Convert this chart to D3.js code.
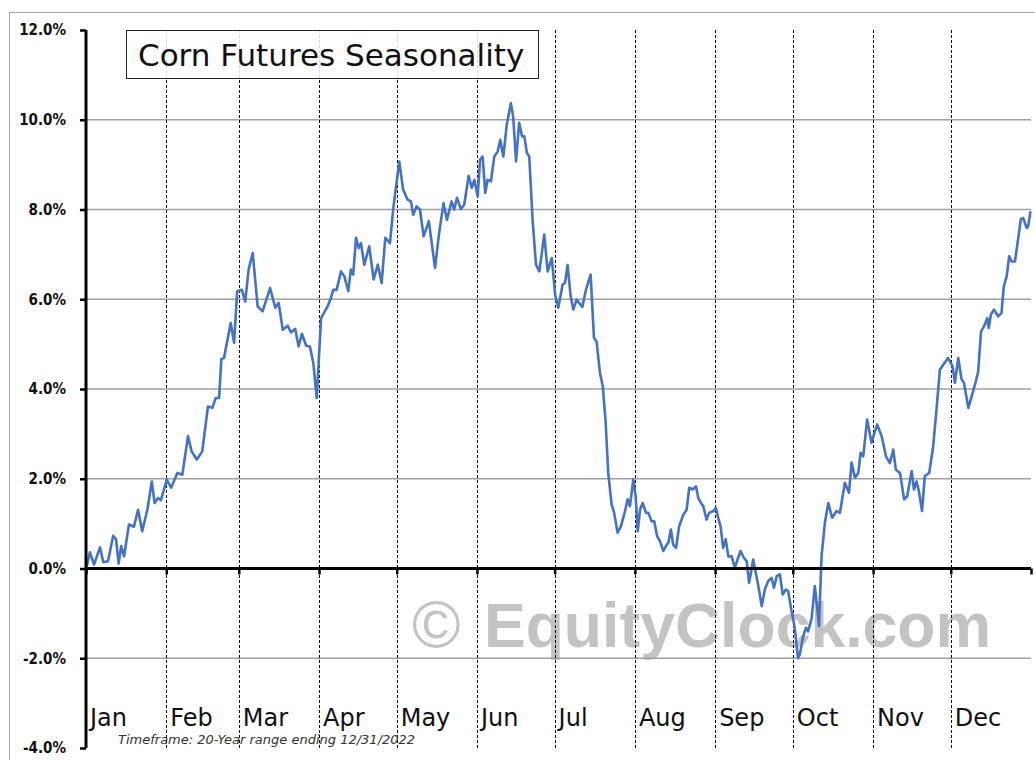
<!DOCTYPE html>
<html lang="en">
<head>
<meta charset="UTF-8">
<title>Corn Futures Seasonality</title>
<script src="https://d3js.org/d3.v7.min.js"></script>
<style>
    body { margin: 0; background: #fff; }
    svg { display: block; }
</style>
</head>
<body>
<script>
    // seasonal path: day of year (0 = Jan 1) and average % change from start of year
    const dayOfYear = [
        0.3, 1.5, 3.1, 5.4, 6.7, 8.5, 10.5, 11.6, 12.6, 13.6, 14.7, 16.6, 18.5, 20.1, 21.7, 23.7, 25.4, 26.5, 27.8, 28.9,
        31.2, 32.9, 35.3, 37.2, 39.4, 40.8, 42.8, 44.9, 47.1, 48.8, 50.1, 51.4, 52.3, 53.3, 55.9, 57.2, 58.4, 60.2, 61.5, 62.8,
        64.4, 66.3, 68.2, 71.1, 73.1, 74.4, 76.0, 77.9, 79.2, 80.8, 82.1, 83.4, 85.0, 86.5, 87.8, 89.1, 90.8, 93.3, 94.6, 95.5,
        96.8, 98.5, 99.8, 101.3, 102.3, 103.2, 104.3, 105.3, 106.2, 107.5, 109.4, 111.1, 112.7, 114.2, 115.6, 117.4, 118.7, 121.0, 122.5, 124.2,
        125.5, 126.4, 127.7, 129.0, 130.4, 132.4, 133.2, 134.8, 136.4, 138.1, 139.4, 141.2, 142.2, 143.3, 144.8, 146.1, 147.8, 149.0, 150.0, 151.3,
        152.2, 153.2, 154.2, 155.1, 156.4, 157.7, 159.0, 160.0, 161.2, 162.5, 164.1, 165.0, 166.1, 167.3, 168.4, 169.3, 170.3, 171.2, 172.5, 173.8,
        175.1, 177.0, 178.3, 179.9, 181.2, 182.4, 184.1, 185.0, 186.0, 187.2, 188.2, 189.5, 191.7, 193.1, 194.9, 196.2, 197.2, 198.5, 199.6, 200.7,
        201.7, 203.0, 204.0, 205.3, 206.6, 208.2, 209.2, 210.1, 211.4, 212.3, 213.1, 214.0, 215.0, 216.3, 217.2, 218.5, 219.5, 220.6, 221.7, 223.0,
        224.3, 224.9, 225.9, 226.8, 227.9, 229.1, 230.7, 232.0, 233.0, 234.3, 235.6, 236.5, 237.5, 238.4, 239.7, 240.7, 242.3, 243.3, 244.2, 245.1,
        246.1, 247.1, 248.1, 249.4, 250.6, 251.9, 252.8, 254.1, 255.2, 256.1, 256.8, 257.7, 258.8, 259.6, 261.0, 262.2, 263.5, 264.8, 265.7, 266.8,
        268.0, 269.1, 270.3, 271.2, 272.5, 273.4, 274.0, 275.0, 275.7, 277.0, 278.1, 278.9, 280.3, 281.5, 282.2, 283.1, 284.1, 285.4, 286.7, 288.2,
        289.9, 291.2, 293.1, 294.7, 295.7, 297.0, 298.3, 299.2, 300.2, 301.7, 303.4, 304.3, 305.6, 307.3, 309.0, 310.5, 311.8, 312.8, 314.4, 316.0,
        317.2, 318.9, 319.8, 320.8, 321.7, 322.9, 324.0, 325.7, 327.2, 328.5, 329.8, 331.1, 333.0, 334.7, 335.6, 336.9, 338.2, 339.1, 340.8, 342.1,
        343.7, 344.6, 345.7, 346.9, 348.1, 348.7, 349.5, 350.7, 352.3, 353.6, 354.5, 355.6, 356.6, 357.5, 358.8, 359.8, 361.1, 362.0, 363.3, 363.9,
        364.8
    ];
    const seasonalPct = [
        0.05, 0.36, 0.09, 0.47, 0.14, 0.16, 0.73, 0.65, 0.11, 0.50, 0.27, 0.98, 0.93, 1.31, 0.83, 1.31, 1.94, 1.46, 1.57, 1.52,
        1.98, 1.80, 2.13, 2.09, 2.95, 2.61, 2.43, 2.61, 3.61, 3.58, 3.80, 3.80, 4.67, 4.69, 5.47, 5.03, 6.18, 6.21, 5.95, 6.66,
        7.03, 5.84, 5.73, 6.25, 5.81, 5.92, 5.32, 5.41, 5.26, 5.34, 4.95, 5.23, 4.97, 4.94, 4.58, 3.80, 5.58, 5.84, 6.03, 6.21,
        6.21, 6.62, 6.51, 6.18, 6.66, 6.55, 7.37, 7.14, 7.25, 6.77, 7.18, 6.44, 6.77, 6.36, 7.37, 7.25, 8.03, 9.07, 8.44, 8.22,
        8.18, 7.88, 8.07, 8.00, 7.40, 7.74, 7.40, 6.70, 7.48, 8.14, 7.77, 8.18, 8.00, 8.26, 8.01, 8.11, 8.75, 8.48, 8.66, 8.29,
        9.11, 9.18, 8.37, 8.66, 8.63, 9.18, 9.29, 9.55, 9.18, 9.89, 10.37, 10.07, 9.07, 9.93, 9.63, 9.63, 9.26, 9.18, 7.77, 6.77,
        6.62, 7.44, 6.62, 6.92, 6.10, 5.81, 6.33, 6.36, 6.76, 6.07, 5.77, 5.99, 5.83, 6.21, 6.55, 5.14, 5.06, 4.36, 4.06, 3.28,
        2.13, 1.43, 1.24, 0.80, 0.94, 1.28, 1.54, 1.39, 1.98, 1.61, 0.83, 1.31, 1.46, 1.24, 1.24, 1.05, 1.05, 0.72, 0.61, 0.39,
        0.53, 0.57, 0.87, 0.53, 0.46, 0.94, 1.20, 1.31, 1.80, 1.76, 1.83, 1.57, 1.46, 1.39, 1.09, 1.24, 1.28, 1.35, 1.13, 0.94,
        0.46, 0.65, 0.27, 0.27, 0.02, 0.24, 0.39, 0.24, 0.16, -0.32, -0.10, 0.20, -0.13, -0.36, -0.84, -0.47, -0.28, -0.21, -0.43, -0.17,
        -0.13, -0.58, -0.47, -0.50, -0.95, -1.21, -1.45, -2.00, -1.92, -1.51, -1.32, -1.40, -1.10, -0.39, -0.76, -1.28, 0.27, 1.02, 1.46, 1.13,
        1.28, 1.24, 1.91, 1.69, 2.36, 2.02, 2.13, 2.58, 2.50, 3.32, 2.80, 2.98, 3.21, 2.95, 2.50, 2.35, 2.65, 2.20, 2.13, 1.54,
        1.61, 2.17, 1.76, 1.94, 1.72, 1.28, 2.06, 2.13, 2.72, 3.54, 4.43, 4.54, 4.69, 4.51, 4.14, 4.69, 4.21, 4.14, 3.58, 3.84,
        4.17, 4.39, 5.28, 5.40, 5.58, 5.36, 5.66, 5.77, 5.62, 5.69, 6.29, 6.51, 6.96, 6.84, 6.84, 7.25, 7.79, 7.81, 7.59, 7.62,
        7.96
    ];
    const yTicks = [-4, -2, 0, 2, 4, 6, 8, 10, 12];
    const titleText = "Corn Futures Seasonality";
    const footnote = "Timeframe: 20-Year range ending 12/31/2022";
    const watermarkMark = "\u00A9";
    const watermarkName = "EquityClock.com";

    const width = 1035, height = 760;
    const plotLeft = 86, plotRight = 1031, plotTop = 30, plotBottom = 748;

    const yearStart = new Date(2022, 0, 1);
    const yearEnd = new Date(2023, 0, 1);
    const dayMs = 24 * 60 * 60 * 1000;

    const points = dayOfYear.map((d, i) => ({ date: new Date(yearStart.getTime() + d * dayMs), v: seasonalPct[i] }));
    const months = d3.timeMonth.range(yearStart, yearEnd);

    const x = d3.scaleTime().domain([yearStart, yearEnd]).range([plotLeft, plotRight]);
    const y = d3.scaleLinear().domain([-4, 12]).range([plotBottom, plotTop]);

    const svg = d3.select("body").append("svg").attr("width", width).attr("height", height);

    // outer frame (only the top/left edges are in view)
    svg.append("rect")
        .attr("x", 9.5).attr("y", 12.5)
        .attr("width", 1200).attr("height", 800)
        .attr("fill", "none").attr("stroke", "#a6a6a6").attr("stroke-width", 1);

    // watermark behind everything
    const wm = svg.append("text")
        .attr("y", 647)
        .attr("font-family", "'Liberation Sans', Arial, sans-serif")
        .attr("font-weight", "bold")
        .attr("font-size", 62.5)
        .attr("fill", "#c3c3c3");
    wm.append("tspan").attr("x", 412).attr("font-weight", "normal").attr("font-size", 66).text(watermarkMark);
    wm.append("tspan").attr("x", 484).text(watermarkName);

    // horizontal gridlines
    svg.append("g")
        .selectAll("line")
        .data(yTicks.filter(t => t !== 0 && t !== -4 && t !== 12))
        .join("line")
        .attr("x1", plotLeft).attr("x2", plotRight)
        .attr("y1", d => y(d)).attr("y2", d => y(d))
        .attr("stroke", "#a0a0a0").attr("stroke-width", 1.3);

    // dashed month separators
    svg.append("g")
        .selectAll("line")
        .data(months.slice(1))
        .join("line")
        .attr("x1", d => Math.round(x(d)) + 0.5).attr("x2", d => Math.round(x(d)) + 0.5)
        .attr("y1", plotTop).attr("y2", plotBottom + 2)
        .attr("stroke", "#000").attr("stroke-width", 1)
        .attr("stroke-dasharray", "3,2");

    // title box
    svg.append("rect")
        .attr("x", 126.5).attr("y", 30.5)
        .attr("width", 412).attr("height", 48)
        .attr("fill", "#fff").attr("fill-opacity", 0.85)
        .attr("stroke", "#222").attr("stroke-width", 1);
    svg.append("text")
        .attr("x", 138).attr("y", 66)
        .attr("font-family", "'DejaVu Sans', Verdana, sans-serif")
        .attr("font-size", 31)
        .attr("fill", "#111")
        .text(titleText);

    // seasonal line
    const line = d3.line().x(d => x(d.date)).y(d => y(d.v));
    svg.append("path")
        .datum(points)
        .attr("d", line)
        .attr("fill", "none")
        .attr("stroke", "#4472c4")
        .attr("stroke-width", 2.6)
        .attr("stroke-linejoin", "round");

    // y axis
    const yAxis = svg.append("g")
        .attr("transform", `translate(${plotLeft},0)`)
        .call(d3.axisLeft(y).tickValues(yTicks).tickSize(6).tickPadding(14).tickFormat(d => d.toFixed(1) + "%"));
    yAxis.select(".domain").attr("stroke", "#000").attr("stroke-width", 3).attr("d", `M0,${plotTop}V${plotBottom}`);
    yAxis.selectAll(".tick line").attr("stroke", "#000").attr("stroke-width", 2.5);
    yAxis.selectAll(".tick text")
        .attr("font-family", "'DejaVu Sans Condensed', 'DejaVu Sans', sans-serif")
        .attr("font-stretch", "condensed")
        .attr("font-weight", "bold")
        .attr("font-size", 15)
        .attr("fill", "#111");

    // x axis along 0%
    const xAxis = svg.append("g")
        .attr("transform", `translate(0,${y(0)})`)
        .call(d3.axisBottom(x).tickValues(months.concat([yearEnd])).tickSize(6).tickFormat(""));
    xAxis.select(".domain").attr("stroke", "#000").attr("stroke-width", 3).attr("d", `M${plotLeft},0H${plotRight}`);
    xAxis.selectAll(".tick line").attr("stroke", "#000").attr("stroke-width", 2.5);

    // month names along the bottom
    svg.append("g")
        .selectAll("text")
        .data(months)
        .join("text")
        .attr("x", d => x(d) + 4)
        .attr("y", 726)
        .attr("font-family", "'DejaVu Sans', Verdana, sans-serif")
        .attr("font-size", 24)
        .attr("fill", "#111")
        .text(d3.timeFormat("%b"));

    // footnote
    svg.append("text")
        .attr("x", 118).attr("y", 744)
        .attr("font-family", "'DejaVu Sans', Verdana, sans-serif")
        .attr("font-style", "italic")
        .attr("font-size", 13)
        .attr("fill", "#333")
        .text(footnote);
</script>
</body>
</html>
